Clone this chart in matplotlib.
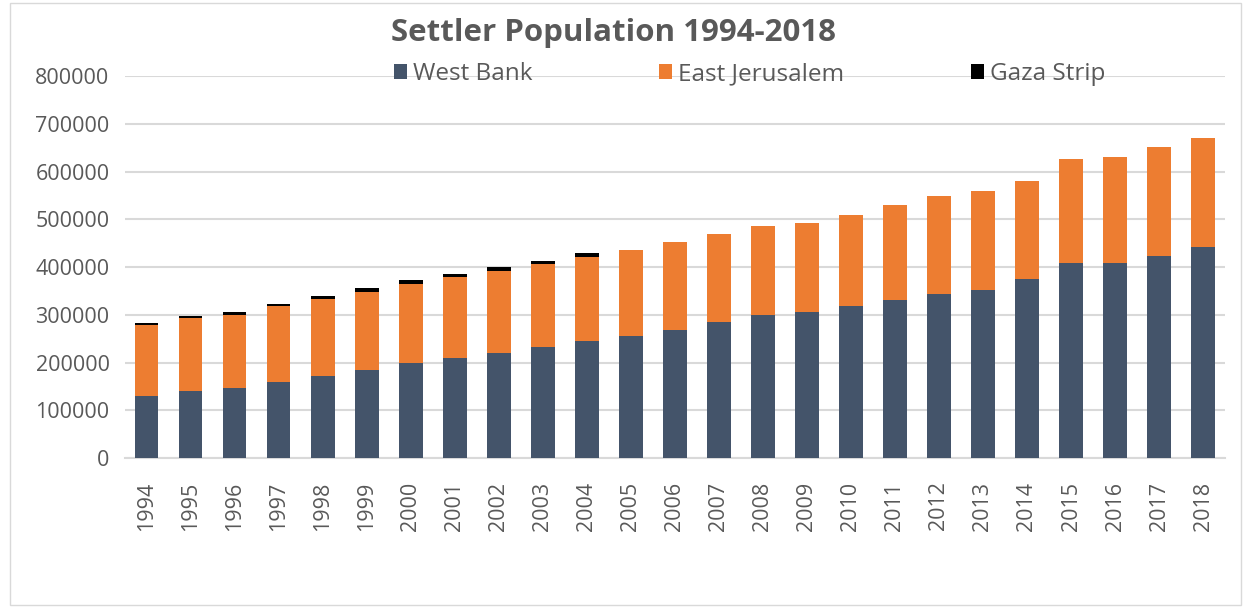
import matplotlib
matplotlib.use("Agg")
import matplotlib.pyplot as plt
import numpy as np
from matplotlib.patches import Rectangle

# ── Data ──
years = [str(y) for y in range(1994, 2019)]
west_bank = [130000, 141000, 146000, 160000, 172000, 184000, 199000, 209000,
             219000, 233000, 244000, 256000, 269000, 285000, 299000, 305000,
             319000, 331000, 344000, 352000, 374000, 409000, 409000, 423000,
             441000]
east_jerusalem = [148500, 151500, 152800, 159000, 161000, 164300, 165400,
                  169400, 172600, 172600, 177600, 179000, 182700, 184100,
                  187500, 186500, 189900, 198600, 205000, 207500, 206500,
                  217700, 221900, 227600, 229800]
gaza_strip = [5000, 5500, 6000, 4500, 6500, 7000, 7500, 7500, 8000, 8000,
              8500, 0, 0, 0, 0, 0, 0, 0, 0, 0, 0, 0, 0, 0, 0]
series_names = ["West Bank", "East Jerusalem", "Gaza Strip"]
y_ticks = [0, 100000, 200000, 300000, 400000, 500000, 600000, 700000, 800000]

colors = ["#44546A", "#ED7D31", "#000000"]
text_col = "#595959"
grid_col = "#D9D9D9"

plt.rcParams["font.family"] = ["Open Sans", "DejaVu Sans"]

fig = plt.figure(figsize=(12.48, 6.08), dpi=100)
ax = fig.add_axes([0.100, 0.2467, 0.8816, 0.6283])

x = np.arange(len(years))
wb = np.array(west_bank)
ej = np.array(east_jerusalem)
gz = np.array(gaza_strip)
width = 0.53

ax.bar(x, wb, width, color=colors[0], label=series_names[0], zorder=3)
ax.bar(x, ej, width, bottom=wb, color=colors[1], label=series_names[1], zorder=3)
ax.bar(x, gz, width, bottom=wb + ej, color=colors[2], label=series_names[2], zorder=3)

ax.set_xlim(-0.5, len(years) - 0.5)
ax.set_ylim(0, 800000)
ax.set_yticks(y_ticks)
ax.set_yticklabels([str(v) for v in y_ticks])
ax.set_xticks(x)
ax.set_xticklabels(years, rotation=90)
ax.tick_params(axis="both", length=0, labelsize=15.5, labelcolor=text_col)
ax.tick_params(axis="y", pad=11)
ax.tick_params(axis="x", pad=17)

ax.yaxis.grid(True, color=grid_col, linewidth=1.5, zorder=0)
ax.set_axisbelow(True)
for side in ["top", "right", "left"]:
    ax.spines[side].set_visible(False)
ax.spines["bottom"].set_color(grid_col)
ax.spines["bottom"].set_linewidth(1.5)

fig.text(0.4912, 0.946, "Settler Population 1994-2018", ha="center", va="center",
         fontsize=22.5, fontweight="bold", color=text_col)

leg = ax.legend(loc="center", bbox_to_anchor=(0.568, 1.005), ncol=3, frameon=False,
                fontsize=17.5, handlelength=0.55, handleheight=0.55,
                handletextpad=0.25, columnspacing=5.2, borderaxespad=0)
for t in leg.get_texts():
    t.set_color(text_col)

fig.patches.append(Rectangle((0.008, 0.005), 0.986, 0.99, transform=fig.transFigure,
                             fill=False, edgecolor=grid_col, linewidth=1.0))

fig.savefig("out.png", dpi=100)
